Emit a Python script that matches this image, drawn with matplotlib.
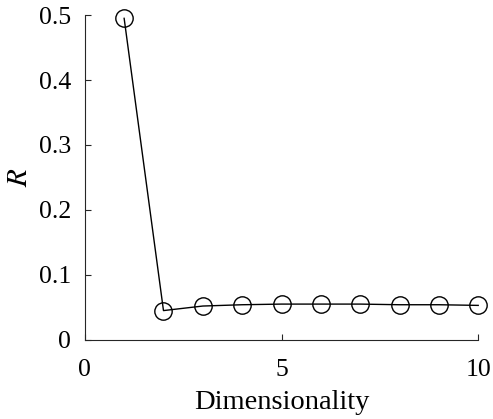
import matplotlib.pyplot as plt

dims = [1, 2, 3, 4, 5, 6, 7, 8, 9, 10]
r_vals = [0.495, 0.045, 0.052, 0.054, 0.055, 0.055, 0.055, 0.054, 0.054, 0.053]

plt.rcParams['font.family'] = ['Liberation Serif', 'DejaVu Serif']
plt.rcParams['mathtext.fontset'] = 'stix'

fig = plt.figure(figsize=(4.93, 4.19), dpi=100)
ax = fig.add_axes([0.172, 0.189, 0.798, 0.775])
ax.plot(dims, r_vals, '-o', color='black', lw=1, mfc='none', mec='black',
	ms=12.5, mew=1, clip_on=False, zorder=3)
ax.set_xlim(0, 10)
ax.set_ylim(0, 0.5)
ax.set_xticks([0, 5, 10])
ax.set_yticks([0, 0.1, 0.2, 0.3, 0.4, 0.5])
ax.set_yticklabels(['0', '0.1', '0.2', '0.3', '0.4', '0.5'])
for s in ['top', 'right']:
	ax.spines[s].set_visible(False)
for s in ['left', 'bottom']:
	ax.spines[s].set_color('#262626')
	ax.spines[s].set_linewidth(0.8)
ax.tick_params(direction='in', length=4, labelsize=18.5, colors='#262626', labelcolor='black')
ax.tick_params(axis='x', pad=14)
ax.tick_params(axis='y', pad=10)
ax.set_xlabel('Dimensionality', fontsize=20.5, labelpad=6)
ax.set_ylabel('$R$', fontsize=21, labelpad=4)
fig.savefig('out.png')
